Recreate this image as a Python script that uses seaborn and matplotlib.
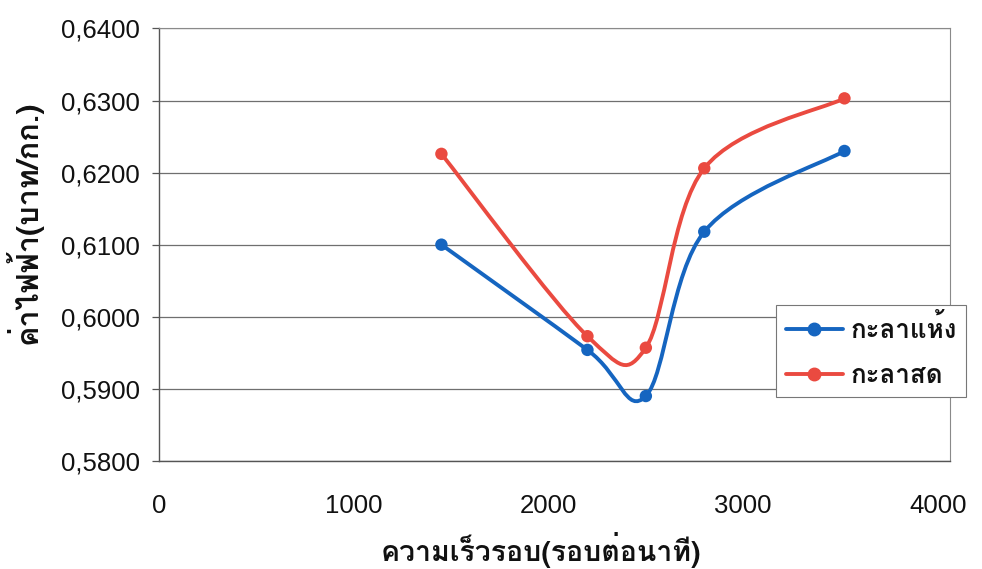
import numpy as np
import pandas as pd
import matplotlib
matplotlib.use('Agg')
import matplotlib.pyplot as plt
import seaborn as sns
from matplotlib import font_manager
from matplotlib.ft2font import FT2Font
from matplotlib.path import Path
from matplotlib.patches import PathPatch
from matplotlib.lines import Line2D
from matplotlib.ticker import FuncFormatter

# ==========================
# Data
# ==========================
speed = [1450, 2200, 2500, 2800, 3520]
dry_cost = [0.6100, 0.5954, 0.5890, 0.6118, 0.6230]
fresh_cost = [0.6226, 0.5973, 0.5957, 0.6206, 0.6303]
series_names = ['กะลาแห้ง', 'กะลาสด']
series_colors = ['#1565c0', '#ea4a40']
x_title = 'ความเร็วรอบ(รอบต่อนาที)'
y_title = 'ค่าไฟฟ้า(บาท/กก.)'
x_ticks = [0, 1000, 2000, 3000, 4000]
y_ticks = [0.58, 0.59, 0.60, 0.61, 0.62, 0.63, 0.64]


# find an installed family that actually has Thai glyphs
def find_thai_font():
    for f in font_manager.fontManager.ttflist:
        try:
            if 0x0E01 in FT2Font(f.fname).get_charmap():
                return f.name
        except Exception:
            pass
    return None


# Excel style smoothed line (cubic bezier through the points)
def smooth_path(xs, ys):
    pts = np.column_stack([xs, ys]).astype(float)
    verts = [pts[0]]
    codes = [Path.MOVETO]
    n = len(pts)
    for i in range(n - 1):
        p0 = pts[max(i - 1, 0)]
        p1 = pts[i]
        p2 = pts[i + 1]
        p3 = pts[min(i + 2, n - 1)]
        verts += [p1 + (p2 - p0) / 6, p2 - (p3 - p1) / 6, p2]
        codes += [Path.CURVE4] * 3
    return Path(verts, codes)


sns.set_theme(style='white')
thai = find_thai_font()
families = ([thai] if thai else []) + ['Liberation Sans', 'DejaVu Sans']
plt.rcParams['font.family'] = families

df = pd.DataFrame({
    'speed': speed * 2,
    'cost': dry_cost + fresh_cost,
    'series': [series_names[0]] * len(speed) + [series_names[1]] * len(speed),
})

fig = plt.figure(figsize=(9.82, 5.69), dpi=100)
ax = fig.add_axes([0.162, 0.19, 0.805, 0.76])

for name, color, values in zip(series_names, series_colors, [dry_cost, fresh_cost]):
    ax.add_patch(PathPatch(smooth_path(speed, values), facecolor='none', edgecolor=color,
                           lw=2.8, capstyle='round', joinstyle='round', zorder=2))

sns.scatterplot(data=df, x='speed', y='cost', hue='series', palette=series_colors,
                s=80, edgecolor='none', legend=False, zorder=3, ax=ax)

ax.set_xlim(0, 4060)
ax.set_ylim(0.58, 0.64)
ax.set_xticks(x_ticks)
ax.set_yticks(y_ticks)
ax.yaxis.set_major_formatter(FuncFormatter(lambda v, p: f'{v:.4f}'.replace('.', ',')))
ax.grid(axis='y', color='#6f6f6f', lw=0.9)
ax.grid(axis='x', visible=False)

for side in ['top', 'right']:
    ax.spines[side].set_color('#8a8a8a')
    ax.spines[side].set_linewidth(0.8)
for side in ['left', 'bottom']:
    ax.spines[side].set_color('#555555')
    ax.spines[side].set_linewidth(1.0)

ax.tick_params(axis='y', left=True, length=5, width=0.9, color='#555555', pad=9)
ax.tick_params(axis='x', bottom=False, pad=18)
for lab in ax.get_yticklabels() + ax.get_xticklabels():
    lab.set_fontfamily(['Liberation Sans', 'DejaVu Sans'])
    lab.set_fontsize(18.5)
    lab.set_color('#111111')

ax.set_xlabel(x_title, fontsize=20.5, fontweight='bold', labelpad=6, color='#111111')
ax.set_ylabel(y_title, fontsize=22, fontweight='bold', color='#111111')
# the original titles sit a bit off the axis centre
ax.xaxis.set_label_coords(0.483, -0.165)
ax.yaxis.set_label_coords(-0.147, 0.553)

handles = [Line2D([], [], color=c, lw=2.8, marker='o', markersize=9) for c in series_colors]
leg = ax.legend(handles, series_names, loc='upper left', bbox_to_anchor=(0.781, 0.361),
                borderaxespad=0, frameon=True, fancybox=False, edgecolor='#777777',
                framealpha=1, prop={'size': 18.7, 'weight': 'bold'}, handlelength=2.2,
                borderpad=0.35, labelspacing=0.8, handletextpad=0.3)
leg.get_frame().set_linewidth(0.8)
for t in leg.get_texts():
    t.set_color('#111111')

fig.savefig('out.png', dpi=100)
